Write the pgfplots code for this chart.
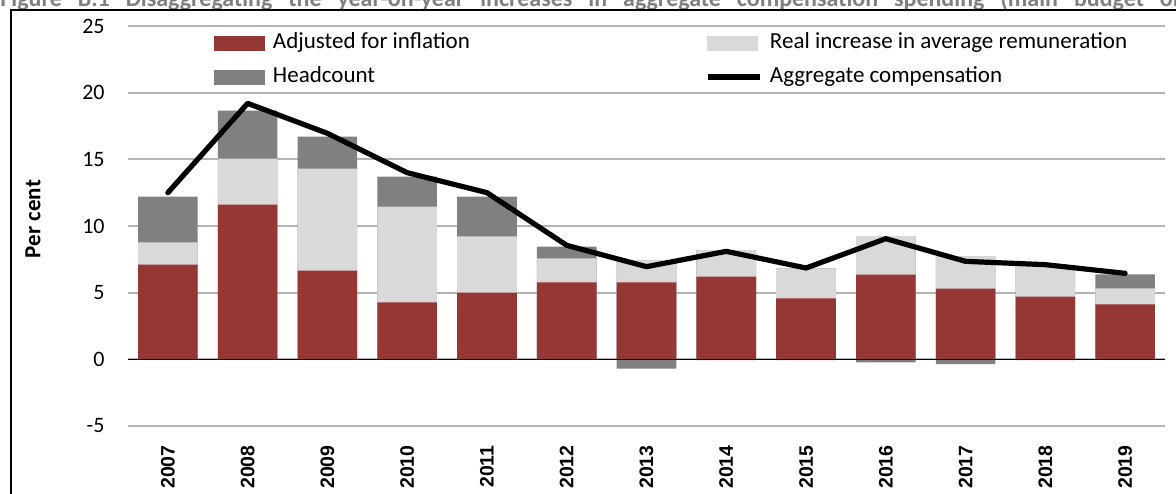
\documentclass[border=0pt]{standalone}
\usepackage{fontspec}
\setmainfont{Carlito}
\newfontfamily\yearfont{Liberation Sans}
\usepackage{pgfplots}
\pgfplotsset{compat=1.18}
\usepackage{pgfplotstable}

\definecolor{cred}{HTML}{953735}
\definecolor{clight}{HTML}{D9D9D9}
\definecolor{cdark}{HTML}{808080}
\definecolor{cgrid}{HTML}{B4B4B4}
\definecolor{ctitle}{HTML}{7F7F7F}

\pgfplotstableread{
x year red real head agg
0 2007 7.10 1.68 3.42 12.50
1 2008 11.60 3.45 3.60 19.20
2 2009 6.65 7.65 2.40 16.95
3 2010 4.27 7.18 2.25 14.00
4 2011 5.00 4.22 2.98 12.50
5 2012 5.77 1.80 0.88 8.55
6 2013 5.77 1.63 -0.70 6.95
7 2014 6.20 2.00 -0.05 8.10
8 2015 4.57 2.25 -0.05 6.85
9 2016 6.35 2.90 -0.22 9.05
10 2017 5.30 2.40 -0.35 7.35
11 2018 4.70 2.35 -0.05 7.10
12 2019 4.12 1.20 1.05 6.45
}\datatable

\begin{document}
\begin{tikzpicture}
\useasboundingbox (0pt,0pt) rectangle (588pt,-246.5pt);
\clip (0pt,0pt) rectangle (588pt,-246.5pt);
\node[anchor=base west, inner sep=0pt, text=ctitle, font=\fontsize{12}{14}\selectfont\bfseries] at (0pt,-3pt) {\makebox[605pt][s]{Figure B.1 Disaggregating the year-on-year increases in aggregate compensation spending (main budget only)}};
\draw[line width=0.75pt] (5.5pt,-260pt) -- (5.5pt,-5pt) -- (600pt,-5pt);
\begin{axis}[
  at={(64pt,-213pt)}, anchor=south west,
  scale only axis, width=518.5pt, height=200pt,
  xmin=-0.5, xmax=12.5, ymin=-5, ymax=25,
  ybar, bar width=29.8pt,
  axis line style={draw=none},
  major tick length=0pt,
  ymajorgrids, grid style={cgrid, line width=1pt},
  ytick={-5,0,5,10,15,20,25},
  yticklabels={-5,0,5,10,15,20,25},
  yticklabel style={font=\fontsize{11}{13}\selectfont, inner sep=0pt, anchor=east},
  yticklabel shift=11.5pt,
  xtick={0,1,2,3,4,5,6,7,8,9,10,11,12},
  xticklabels={2007,2008,2009,2010,2011,2012,2013,2014,2015,2016,2017,2018,2019},
  xticklabel style={font=\yearfont\bfseries\fontsize{9.75}{11}\selectfont, rotate=90, anchor=east, inner sep=0pt},
  xticklabel shift=9.5pt,
  /pgf/number format/assume math mode=true,
  ylabel={\bfseries Per cent},
  every axis y label/.style={at={(axis description cs:-0.0916,0.5175)}, rotate=90, anchor=center, font=\fontsize{11.5}{13}\selectfont},
  legend columns=2,
  legend style={draw=none, fill=none, at={(axis description cs:0.0829,0.985)}, anchor=north west, inner sep=0pt,
    font=\fontsize{11.5}{13}\selectfont, cells={anchor=west},
    nodes={inner sep=0pt, text height=8pt, text depth=2.5pt}, row sep=6.5pt,
    /tikz/every odd column/.append style={column sep=3.9pt},
    /tikz/every even column/.append style={column sep=117.5pt}},
]
\addplot[forget plot, fill=cdark, draw=none, bar shift=0pt] table[x=x, y expr={\thisrow{red}+\thisrow{real}+max(\thisrow{head},0)}] {\datatable};
\addplot[forget plot, fill=clight, draw=none, bar shift=0pt] table[x=x, y expr={\thisrow{red}+\thisrow{real}}] {\datatable};
\addplot[forget plot, fill=cred, draw=none, bar shift=0pt] table[x=x, y=red] {\datatable};
\addplot[forget plot, fill=cdark, draw=none, bar shift=0pt] table[x=x, y expr={min(\thisrow{head},0)}] {\datatable};
\draw[black, line width=0.75pt] (axis cs:-0.5,0) -- (axis cs:12.5,0);
\addplot[forget plot, sharp plot, black, line width=2.6pt, line join=round, line cap=round] table[x=x, y=agg] {\datatable};
\addlegendimage{legend image code/.code={\fill[cred] (0pt,-3.5pt) rectangle (25pt,3.5pt);}}
\addlegendentry{Adjusted for inflation}
\addlegendimage{legend image code/.code={\fill[clight] (0pt,-3.5pt) rectangle (25pt,3.5pt);}}
\addlegendentry{Real increase in average remuneration}
\addlegendimage{legend image code/.code={\fill[cdark] (0pt,-3.5pt) rectangle (25pt,3.5pt);}}
\addlegendentry{Headcount}
\addlegendimage{legend image code/.code={\draw[black, line width=2.6pt] (0pt,0pt) -- (26pt,0pt);}}
\addlegendentry{Aggregate compensation}
\end{axis}
\end{tikzpicture}
\end{document}
